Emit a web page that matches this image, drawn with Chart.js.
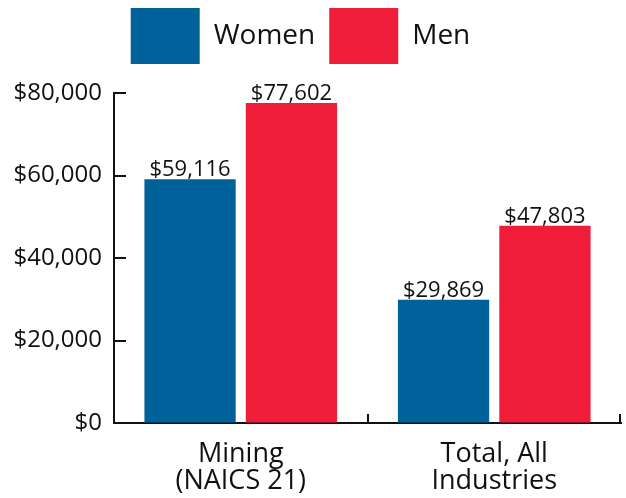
<!DOCTYPE html>
<html>
<head>
<meta charset="utf-8">
<script src="https://cdn.jsdelivr.net/npm/chart.js@4/dist/chart.umd.min.js"></script>
<style>
  html, body { margin: 0; padding: 0; background: #fff; }
  #myChart { display: block; }
</style>
</head>
<body>
<canvas id="myChart" width="626" height="498"></canvas>
<script>
const categories = [["Mining", "(NAICS 21)"], ["Total, All", "Industries"]];
const seriesNames = ["Women", "Men"];
const women = [59116, 29869];
const men = [77602, 47803];
const yTickValues = [0, 20000, 40000, 60000, 80000];

const blue = "#00629b";
const red = "#ef1c3a";
const fontFam = "'Open Sans', sans-serif";

const money = (v) => "$" + Number(v).toLocaleString("en-US");

// ticks that point into the plot, like the original, plus value labels
const innerTicks = {
  id: "innerTicks",
  beforeLayout(chart) {
    const lg = chart.legend;
    if (lg && !lg._tweaked) {
      const fit = lg.fit;
      lg.fit = function () {
        fit.call(this);
        this.height += 19; // gap between legend and plot
      };
      const draw = lg.draw;
      lg.draw = function () {
        this.ctx.save();
        this.ctx.translate(-10, 0);
        draw.call(this);
        this.ctx.restore();
      };
      lg._tweaked = true;
    }
  },
  afterDraw(chart) {
    const { ctx, chartArea } = chart;
    const x = chart.scales.x;
    const y = chart.scales.y;
    ctx.save();
    ctx.strokeStyle = "#111";
    ctx.lineWidth = 2;
    ctx.beginPath();
    yTickValues.forEach((v) => {
      const py = Math.round(y.getPixelForValue(v));
      ctx.moveTo(chartArea.left, py);
      ctx.lineTo(chartArea.left + 12, py);
    });
    for (let i = 1; i < categories.length; i++) {
      const px = Math.round((x.getPixelForValue(i - 1) + x.getPixelForValue(i)) / 2);
      ctx.moveTo(px, chartArea.bottom);
      ctx.lineTo(px, chartArea.bottom - 9);
    }
    ctx.moveTo(chartArea.right - 1, chartArea.bottom);
    ctx.lineTo(chartArea.right - 1, chartArea.bottom - 9);
    ctx.stroke();

    ctx.fillStyle = "#111";
    ctx.font = "22px " + fontFam;
    ctx.textAlign = "center";
    ctx.textBaseline = "bottom";
    chart.data.datasets.forEach((ds, di) => {
      chart.getDatasetMeta(di).data.forEach((bar, i) => {
        ctx.fillText(money(ds.data[i]), bar.x, bar.y + 2);
      });
    });
    ctx.restore();
  },
};

const ctx = document.getElementById("myChart").getContext("2d");
const myChart = new Chart(ctx, {
  type: "bar",
  data: {
    labels: categories,
    datasets: [
      { label: seriesNames[0], data: women, backgroundColor: blue },
      { label: seriesNames[1], data: men, backgroundColor: red },
    ],
  },
  options: {
    responsive: false,
    animation: false,
    events: [],
    layout: { padding: { top: -6, right: 5, left: 0, bottom: 0 } },
    datasets: {
      bar: { categoryPercentage: 0.8, barPercentage: 0.9 },
    },
    plugins: {
      tooltip: { enabled: false },
      legend: {
        position: "top",
        labels: {
          boxWidth: 69,
          boxHeight: 56,
          padding: 14,
          color: "#111",
          font: { family: fontFam, size: 28 },
        },
      },
    },
    scales: {
      x: {
        grid: { display: true, drawOnChartArea: false, drawTicks: false, color: "rgba(0,0,0,0)" },
        border: { display: true, color: "#111", width: 2 },
        ticks: {
          color: "#111",
          padding: 17,
          maxRotation: 0,
          font: { family: fontFam, size: 27, lineHeight: 1.03 },
        },
        afterFit(scale) {
          scale.height = 75;
        },
      },
      y: {
        min: 0,
        max: 80000,
        grid: { display: true, drawOnChartArea: false, drawTicks: false, color: "rgba(0,0,0,0)" },
        border: { display: true, color: "#111", width: 2 },
        ticks: {
          stepSize: 20000,
          color: "#111",
          padding: 12,
          font: { family: fontFam, size: 24 },
          callback: (v) => money(v),
        },
        afterFit(scale) {
          scale.width = 114;
        },
      },
    },
  },
  plugins: [innerTicks],
});
</script>
</body>
</html>
